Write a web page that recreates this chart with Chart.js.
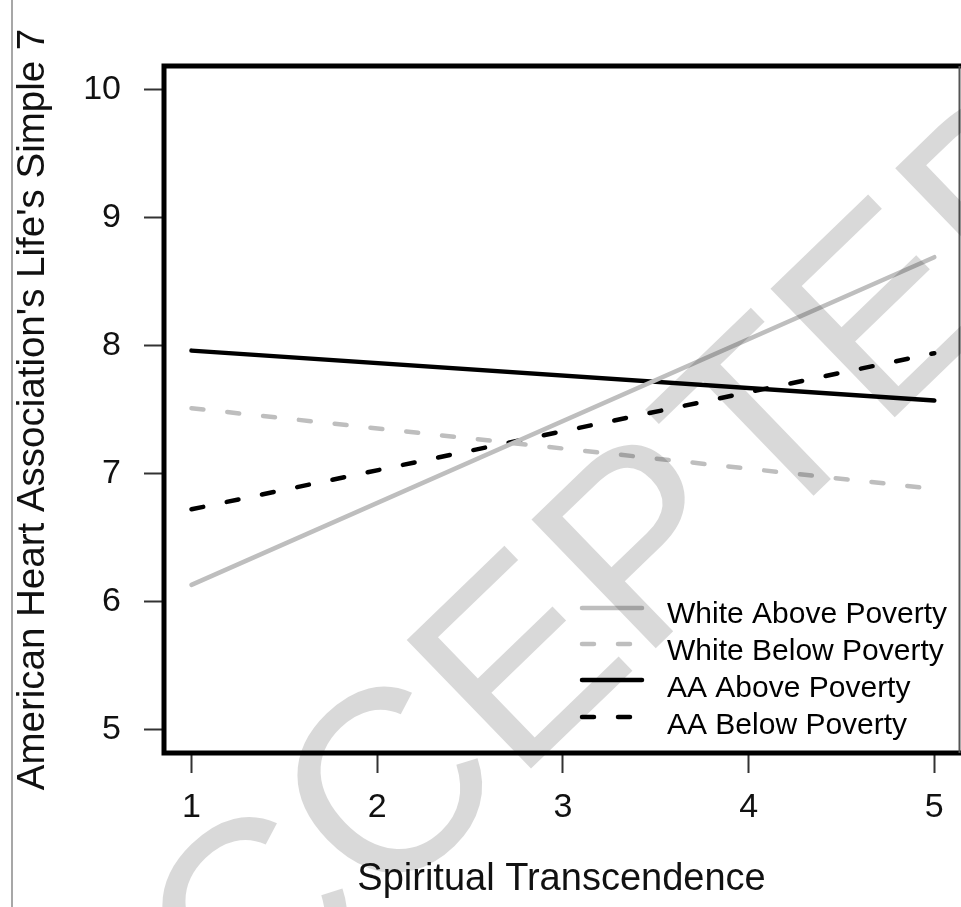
<!DOCTYPE html>
<html lang="en">
<head>
<meta charset="UTF-8">
<title>spiritual transcendence</title>
<script src="https://cdn.jsdelivr.net/npm/chart.js@4.4.1/dist/chart.umd.min.js"></script>
<style>
	html,body{margin:0;padding:0;background:#fff;}
	canvas{display:block;}
</style>
</head>
<body>
<canvas id="chart" width="961" height="907"></canvas>
<script>

	// values
	var xValues=[1,5];
	var xTicks=[1,2,3,4,5];
	var yTicks=[5,6,7,8,9,10];
	var whiteAbove=[6.13,8.69];
	var whiteBelow=[7.51,6.88];
	var aaAbove=[7.96,7.57];
	var aaBelow=[6.72,7.94];
	var seriesNames=["White Above Poverty","White Below Poverty","AA Above Poverty","AA Below Poverty"];

	var GRAY="#bebebe",BLACK="#000000";
	var DASH=[12,24];
	var FONT="'Liberation Sans', Arial, sans-serif";

	function pts(vals){
		return vals.map(function(v,i){
			return {x:xValues[i],y:v};
		});
	}

	var styles=[
		{color:GRAY,dash:[]},
		{color:GRAY,dash:DASH},
		{color:BLACK,dash:[]},
		{color:BLACK,dash:DASH}
	];
	var series=[whiteAbove,whiteBelow,aaAbove,aaBelow];

	var datasets=series.map(function(s,i){
		return {
			label:seriesNames[i],
			data:pts(s),
			borderColor:styles[i].color,
			borderWidth:4.5,
			borderDash:styles[i].dash,
			borderCapStyle:"round",
			pointRadius:0,
			tension:0,
			fill:false
		};
	});

	var frame={
		id:"frame",
		beforeDraw:function(chart){
			var ctx=chart.ctx;
			ctx.save();
			ctx.fillStyle="#fff";
			ctx.fillRect(0,0,chart.width,chart.height);
			// page edge on the left
			ctx.strokeStyle="#8a8a8a";
			ctx.lineWidth=1.5;
			ctx.beginPath();
			ctx.moveTo(12,0);ctx.lineTo(12,chart.height);
			ctx.stroke();
			ctx.restore();
		},
		afterDraw:function(chart){
			var ctx=chart.ctx,a=chart.chartArea;
			ctx.save();
			// box
			ctx.strokeStyle="#000";
			ctx.lineWidth=5;
			ctx.beginPath();
			ctx.moveTo(chart.width,a.top);
			ctx.lineTo(a.left,a.top);
			ctx.lineTo(a.left,a.bottom);
			ctx.lineTo(chart.width,a.bottom);
			ctx.stroke();
			ctx.strokeStyle="#555";
			ctx.lineWidth=2;
			ctx.beginPath();
			ctx.moveTo(a.right+0.5,a.top);ctx.lineTo(a.right+0.5,a.bottom);
			ctx.stroke();

			// legend
			var rows=[608,644,680,717];
			var textRows=[615,652,689,726];
			ctx.font="30px "+FONT;
			ctx.textBaseline="middle";
			ctx.textAlign="left";
			rows.forEach(function(y,i){
				ctx.strokeStyle=styles[i].color;
				ctx.lineWidth=4.5;
				ctx.lineCap="round";
				ctx.setLineDash(styles[i].dash);
				ctx.beginPath();
				ctx.moveTo(582,y);ctx.lineTo(642,y);
				ctx.stroke();
				ctx.setLineDash([]);
				ctx.fillStyle="#000";
				ctx.fillText(seriesNames[i],667,textRows[i]);
			});

			// watermark
			ctx.globalCompositeOperation="multiply";
			ctx.translate(630,673);
			ctx.rotate(-44*Math.PI/180);
			ctx.font="260px "+FONT;
			ctx.textAlign="center";
			ctx.textBaseline="alphabetic";
			ctx.fillStyle="#d9d9d9";
			ctx.fillText("ACCEPTED",0,0);
			ctx.restore();
		}
	};

	new Chart(document.getElementById("chart"),{
		type:"line",
		data:{datasets:datasets},
		options:{
			responsive:false,
			animation:false,
			devicePixelRatio:1,
			layout:{padding:{top:66,right:2,left:0,bottom:0}},
			plugins:{legend:{display:false},tooltip:{enabled:false}},
			scales:{
				x:{
					type:"linear",
					min:0.852,
					max:5.133,
					afterBuildTicks:function(s){
						s.ticks=xTicks.map(function(v){return {value:v};});
					},
					afterFit:function(s){s.height=154;},
					border:{display:false},
					grid:{drawOnChartArea:false,drawTicks:true,tickLength:20,tickColor:"#333",tickWidth:2},
					ticks:{font:{family:FONT,size:34},color:"#111",padding:14,maxRotation:0,autoSkip:false},
					title:{display:true,text:"Spiritual Transcendence",color:"#111",font:{family:FONT,size:38},padding:{top:0,bottom:5}}
				},
				y:{
					type:"linear",
					min:4.816,
					max:10.184,
					afterBuildTicks:function(s){
						s.ticks=yTicks.map(function(v){return {value:v};});
					},
					afterFit:function(s){s.width=164;},
					border:{display:false},
					grid:{drawOnChartArea:false,drawTicks:true,tickLength:20,tickColor:"#333",tickWidth:2},
					ticks:{font:{family:FONT,size:34},color:"#111",padding:23,autoSkip:false},
					title:{display:true,text:"American Heart Association's Life's Simple 7",color:"#111",font:{family:FONT,size:38.5},padding:{top:10,bottom:0}}
				}
			}
		},
		plugins:[frame]
	});

</script>
</body>
</html>
